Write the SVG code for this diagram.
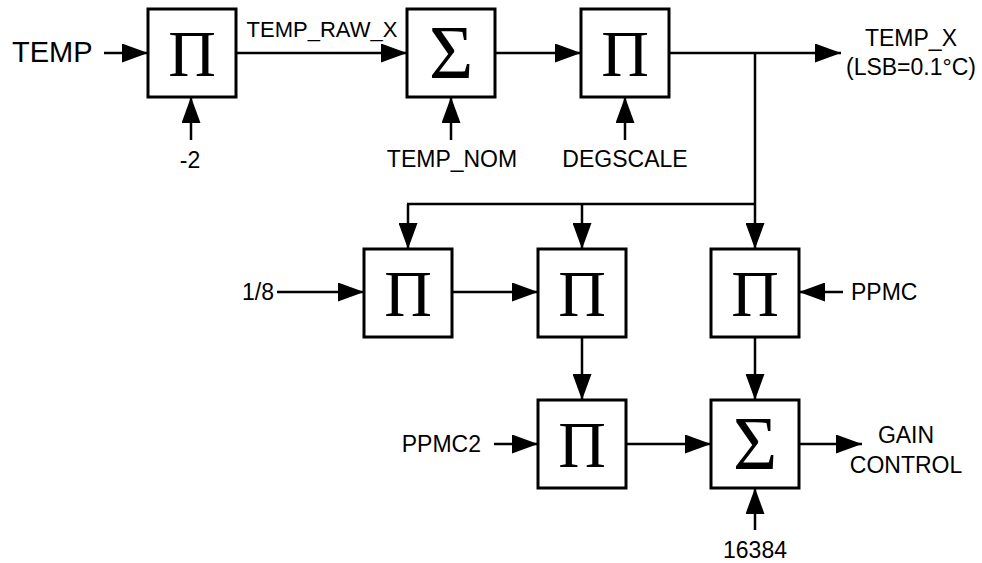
<svg xmlns="http://www.w3.org/2000/svg" width="982" height="563" viewBox="0 0 982 563">
<defs>
<marker id="ah" markerUnits="userSpaceOnUse" markerWidth="26" markerHeight="19" refX="26" refY="9.5" orient="auto">
<path d="M0,0 L26,9.5 L0,19 z" fill="#000"/>
</marker>
<style>
.box{fill:#fff;stroke:#000;stroke-width:3}
.op{font-family:"Liberation Serif","Times New Roman",serif;text-anchor:middle;fill:#000}
.pi{font-size:66px}
.sig{font-size:76px}
.lbl{font-family:"Liberation Sans",Arial,sans-serif;font-size:23px;fill:#000}
.c{text-anchor:middle}
.w{fill:none;stroke:#000;stroke-width:2.5}
.a{marker-end:url(#ah)}
</style>
</defs>
<rect width="982" height="563" fill="#fff"/>
<g id="connectors">
<line class="w a" x1="104" y1="53" x2="148" y2="53"/>
<line class="w a" x1="236" y1="53" x2="407" y2="53"/>
<line class="w a" x1="191" y1="140" x2="191" y2="97"/>
<line class="w a" x1="495" y1="53" x2="581" y2="53"/>
<line class="w a" x1="451" y1="140" x2="451" y2="97"/>
<line class="w a" x1="625" y1="140" x2="625" y2="97"/>
<line class="w a" x1="669" y1="53" x2="841" y2="53"/>
<line class="w a" x1="755" y1="53" x2="755" y2="249"/>
<line class="w" x1="407" y1="204" x2="755" y2="204"/>
<line class="w a" x1="408" y1="204" x2="408" y2="249"/>
<line class="w a" x1="582" y1="204" x2="582" y2="249"/>
<line class="w a" x1="277" y1="292" x2="364" y2="292"/>
<line class="w a" x1="452" y1="292" x2="538" y2="292"/>
<line class="w a" x1="843" y1="292" x2="799" y2="292"/>
<line class="w a" x1="582" y1="337" x2="582" y2="400"/>
<line class="w a" x1="755" y1="337" x2="755" y2="400"/>
<line class="w a" x1="494" y1="444" x2="538" y2="444"/>
<line class="w a" x1="626" y1="444" x2="711" y2="444"/>
<line class="w a" x1="799" y1="444" x2="862" y2="444"/>
<line class="w a" x1="755" y1="530" x2="755" y2="488"/>
</g>
<g id="mul1">
<rect class="box" x="148" y="9" width="88" height="88"/>
<text class="op pi" x="192" y="76">Π</text>
</g>
<g id="sum1">
<rect class="box" x="407" y="9" width="88" height="88"/>
<text class="op sig" x="451" y="78">Σ</text>
</g>
<g id="mul2">
<rect class="box" x="581" y="9" width="88" height="88"/>
<text class="op pi" x="625" y="76">Π</text>
</g>
<g id="mul3">
<rect class="box" x="364" y="249" width="88" height="88"/>
<text class="op pi" x="408" y="316">Π</text>
</g>
<g id="mul4">
<rect class="box" x="538" y="249" width="88" height="88"/>
<text class="op pi" x="582" y="316">Π</text>
</g>
<g id="mul5">
<rect class="box" x="711" y="249" width="88" height="88"/>
<text class="op pi" x="755" y="316">Π</text>
</g>
<g id="mul6">
<rect class="box" x="538" y="400" width="88" height="88"/>
<text class="op pi" x="582" y="467">Π</text>
</g>
<g id="sum2">
<rect class="box" x="711" y="400" width="88" height="88"/>
<text class="op sig" x="755" y="469">Σ</text>
</g>
<g id="labels">
<text class="lbl" x="12" y="62" style="font-size:29px">TEMP</text>
<text class="lbl c" x="322" y="37" style="font-size:22px">TEMP_RAW_X</text>
<text class="lbl c" x="190" y="168">-2</text>
<text class="lbl c" x="452" y="167">TEMP_NOM</text>
<text class="lbl c" x="625" y="167">DEGSCALE</text>
<text class="lbl c" x="911" y="46">TEMP_X</text>
<text class="lbl c" x="911" y="75">(LSB=0.1°C)</text>
<text class="lbl" x="274" y="300" text-anchor="end">1/8</text>
<text class="lbl" x="851" y="300">PPMC</text>
<text class="lbl" x="481" y="452" text-anchor="end">PPMC2</text>
<text class="lbl c" x="906" y="443">GAIN</text>
<text class="lbl c" x="906" y="473">CONTROL</text>
<text class="lbl c" x="755" y="558">16384</text>
</g>
</svg>
